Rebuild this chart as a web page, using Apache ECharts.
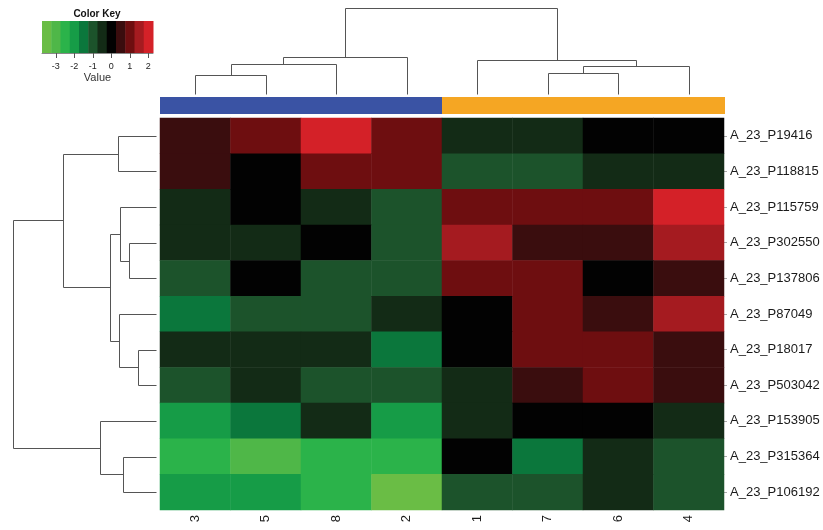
<!DOCTYPE html>
<html><head><meta charset="utf-8">
<script src="https://cdn.jsdelivr.net/npm/echarts@6/dist/echarts.min.js"></script>
<style>html,body{margin:0;padding:0;background:#fff}#c{width:823px;height:530px}</style>
</head><body><div id="c"></div>
<script>
// ---- data ----
const colLabels = ['3','5','8','2','1','7','6','4'];
const rowLabels = ['A_23_P19416','A_23_P118815','A_23_P115759','A_23_P302550','A_23_P137806',
  'A_23_P87049','A_23_P18017','A_23_P503042','A_23_P153905','A_23_P315364','A_23_P106192'];
const cellValues = [
  [ 0.5,  1.0,  2.0,  1.0, -0.5, -0.5,  0.0,  0.0],
  [ 0.5,  0.0,  1.0,  1.0, -1.0, -1.0, -0.5, -0.5],
  [-0.5,  0.0, -0.5, -1.0,  1.0,  1.0,  1.0,  2.0],
  [-0.5, -0.5,  0.0, -1.0,  1.5,  0.5,  0.5,  1.5],
  [-1.0,  0.0, -1.0, -1.0,  1.0,  1.0,  0.0,  0.5],
  [-1.5, -1.0, -1.0, -0.5,  0.0,  1.0,  0.5,  1.5],
  [-0.5, -0.5, -0.5, -1.5,  0.0,  1.0,  1.0,  0.5],
  [-1.0, -0.5, -1.0, -1.0, -0.5,  0.5,  1.0,  0.5],
  [-2.0, -1.5, -0.5, -2.0, -0.5,  0.0,  0.0, -0.5],
  [-2.5, -3.0, -2.5, -2.5,  0.0, -1.5, -0.5, -1.0],
  [-2.0, -2.0, -2.5, -3.5, -1.0, -1.0, -0.5, -1.0]
];
const colGroups = [0,0,0,0,1,1,1,1];
const groupColors = ['#3a53a4','#f5a623'];
const keyBreaks = [-3.75,-3.25,-2.75,-2.25,-1.75,-1.25,-0.75,-0.25,0.25,0.75,1.25,1.75,2.25];
const keyColors = ['#6abd45','#4fb748','#2bb34a','#169c47','#0b773c','#1c532b','#132b16',
  '#020202','#3a0d0e','#6e0e10','#a51b20','#d42128'];
const keyTicks = [-3,-2,-1,0,1,2];
// dendrogram merges: [nodeA, nodeB, height]; leaves are 0..n-1, merged nodes numbered n, n+1, ...
const rowMerges = [[0,1,38],[3,4,27],[2,12,36],[6,7,18],[5,14,37],[13,15,46],[11,16,93],[9,10,33],[8,18,56],[17,19,143]];
const colMerges = [[0,1,18.9],[8,2,29.6],[9,3,36.8],[5,6,21.5],[11,7,28],[4,12,34.2],[10,13,85.7]];

// ---- helpers ----
function dendroSegments(merges, n){
  const pos=[], hgt=[], segs=[];
  for(let i=0;i<n;i++){pos.push(i+0.5);hgt.push(0);}
  merges.forEach(function(m){
    const a=m[0], b=m[1], h=m[2];
    segs.push([pos[a],hgt[a],pos[b],hgt[b],h]);
    pos.push((pos[a]+pos[b])/2); hgt.push(h);
  });
  return segs;
}
function crisp(p){return [Math.round(p[0])+0.5, Math.round(p[1])+0.5];}
const FONT='Liberation Sans';
const heatData=[];
cellValues.forEach(function(r,ri){r.forEach(function(v,ci){heatData.push([ci,ri,v]);});});
const pieces=keyColors.map(function(c,i){return {gte:keyBreaks[i], lt:keyBreaks[i+1], color:c};});
const keyData=keyColors.map(function(c,i){return [keyBreaks[i], keyBreaks[i+1], i];});

const chart=echarts.init(document.getElementById('c'),null,{renderer:'canvas'});
chart.setOption({
  backgroundColor:'#fff',
  animation:false,
  grid:[
    {left:160, top:118, width:564, height:392},   // heatmap
    {left:160, top:8, width:564, height:86},      // top dendrogram
    {left:0, top:118, width:156, height:392},     // left dendrogram
    {left:160, top:97, width:564, height:17},     // colour bar
    {left:42, top:21, width:111, height:32}       // colour key
  ],
  xAxis:[
    {gridIndex:0, type:'category', data:colLabels, position:'bottom',
     axisLine:{show:false}, axisTick:{show:false},
     axisLabel:{rotate:90, fontSize:13, fontFamily:FONT, color:'#1a1a1a', margin:5}},
    {gridIndex:1, type:'value', min:0, max:8, show:false},
    {gridIndex:2, type:'value', min:0, max:156, inverse:true, show:false},
    {gridIndex:3, type:'category', data:colLabels, show:false},
    {gridIndex:4, type:'value', min:-3.75, max:2.25, splitLine:{show:false},
     axisLine:{show:true, lineStyle:{color:'#888', width:1}},
     axisTick:{show:true, customValues:keyTicks, length:5, lineStyle:{color:'#555'}},
     axisLabel:{customValues:keyTicks, fontSize:9, fontFamily:FONT, color:'#222', margin:9},
     name:'Value', nameLocation:'middle', nameGap:19,
     nameTextStyle:{fontSize:11, fontFamily:FONT, color:'#333'}}
  ],
  yAxis:[
    {gridIndex:0, type:'category', data:rowLabels, inverse:true, position:'right',
     axisLine:{show:false}, axisTick:{show:true, alignWithLabel:true, length:3, lineStyle:{color:'#aaa'}},
     axisLabel:{fontSize:13, fontFamily:FONT, color:'#1a1a1a', margin:6}},
    {gridIndex:1, type:'value', min:0, max:86, show:false},
    {gridIndex:2, type:'value', min:0, max:11, inverse:true, show:false},
    {gridIndex:3, type:'value', min:0, max:1, show:false},
    {gridIndex:4, type:'value', min:0, max:1, show:false}
  ],
  visualMap:{type:'piecewise', show:false, seriesIndex:0, dimension:2, pieces:pieces},
  graphic:[{type:'text', x:97, y:14, style:{text:'Color Key', font:'bold 10px "Liberation Sans"', fill:'#111', align:'center', verticalAlign:'middle'}}],
  series:[
    {type:'heatmap', xAxisIndex:0, yAxisIndex:0, data:heatData, itemStyle:{borderWidth:0}, emphasis:{disabled:true}},
    {type:'custom', xAxisIndex:1, yAxisIndex:1, data:dendroSegments(colMerges,colLabels.length),
     renderItem:function(params,api){
       const xa=api.value(0), ha=api.value(1), xb=api.value(2), hb=api.value(3), h=api.value(4);
       const pts=[api.coord([xa,ha]),api.coord([xa,h]),api.coord([xb,h]),api.coord([xb,hb])].map(crisp);
       return {type:'polyline', shape:{points:pts}, style:{stroke:'#555', lineWidth:1, fill:null}};
     }},
    {type:'custom', xAxisIndex:2, yAxisIndex:2, data:dendroSegments(rowMerges,rowLabels.length),
     renderItem:function(params,api){
       const ya=api.value(0), ha=api.value(1), yb=api.value(2), hb=api.value(3), h=api.value(4);
       const pts=[api.coord([ha,ya]),api.coord([h,ya]),api.coord([h,yb]),api.coord([hb,yb])].map(crisp);
       return {type:'polyline', shape:{points:pts}, style:{stroke:'#555', lineWidth:1, fill:null}};
     }},
    {type:'custom', xAxisIndex:3, yAxisIndex:3, data:colGroups.map(function(g,i){return [i,g];}),
     renderItem:function(params,api){
       const top=api.coord([api.value(0),1]), bot=api.coord([api.value(0),0]);
       const w=api.size([1,0])[0];
       const x0=Math.floor(top[0]-w/2), x1=Math.ceil(top[0]+w/2);
       return {type:'rect', shape:{x:x0, y:top[1], width:x1-x0+1, height:bot[1]-top[1]},
         style:{fill:groupColors[api.value(1)], stroke:null}};
     }},
    {type:'custom', xAxisIndex:4, yAxisIndex:4, data:keyData,
     renderItem:function(params,api){
       const p1=api.coord([api.value(0),1]), p2=api.coord([api.value(1),0]);
       return {type:'rect', shape:{x:p1[0], y:p1[1], width:p2[0]-p1[0]+0.5, height:p2[1]-p1[1]},
         style:{fill:keyColors[api.value(2)]}};
     }}
  ]
});
</script></body></html>
